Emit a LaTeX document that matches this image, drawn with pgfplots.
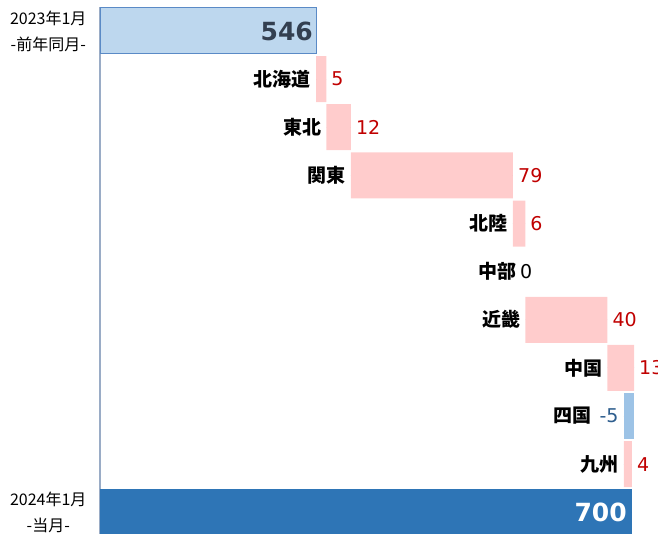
\documentclass[border=0pt]{standalone}
\usepackage{pgfplots}
\pgfplotsset{compat=1.18}
\usepackage{fontspec}
\setmainfont{Noto Sans CJK JP}
\newfontfamily\numfont{DejaVu Sans}
\definecolor{prevfill}{HTML}{BDD7EE}
\definecolor{prevdraw}{HTML}{5A8AC6}
\definecolor{posfill}{HTML}{FFCCCC}
\definecolor{postxt}{HTML}{C00000}
\definecolor{negfill}{HTML}{9DC3E6}
\definecolor{negtxt}{HTML}{2E5E8E}
\definecolor{finfill}{HTML}{2E75B6}
\definecolor{bigtxt}{HTML}{333F50}
\definecolor{axcol}{HTML}{9AACC6}
\DeclareRobustCommand\chubu{中部\,\makebox[0pt][l]{\numfont\mdseries 0}}
\DeclareRobustCommand\shikoku{四国\hspace{8pt}\textcolor{negtxt}{\numfont\mdseries -5}}
\pgfplotsset{common/.style={
  at={(100pt,0pt)}, anchor=north west,
  scale only axis, width=558pt, height=534pt,
  xmin=440.7, xmax=712.7, ymin=-0.643, ymax=10.45,
  y dir=reverse}}
\pgfplotsset{lab/.style={only marks, mark=*, mark size=0pt, mark options={draw=none, fill=none},
  nodes near coords={\pgfplotspointmeta}, point meta=explicit symbolic}}
\begin{document}
\begin{tikzpicture}
\begin{axis}[common,
  xbar stacked, bar width=46pt,
  axis x line=none, axis y line=left,
  y axis line style={-, draw=axcol, line width=1.8pt, shorten <=7pt},
  xtick=\empty,
  ytick={0,10},
  yticklabels={{2023年1月\\-前年同月-},{2024年1月\\-当月-}},
  yticklabel style={align=center, font=\fontsize{16}{26}\selectfont, xshift=-10pt},
  major tick length=0pt,
]
% previous-year total
\addplot[draw=prevdraw, line width=1pt, fill=prevfill]
  coordinates {(546,0) (0,1) (0,2) (0,3) (0,4) (0,5) (0,6) (0,7) (0,8) (0,9) (0,10)};
% invisible base
\addplot[draw=none, fill=none]
  coordinates {(0,0) (546,1) (551,2) (563,3) (642,4) (648,5) (648,6) (688,7) (696,8) (696,9) (0,10)};
% increases
\addplot[draw=none, fill=posfill]
  coordinates {(0,0) (5,1) (12,2) (79,3) (6,4) (0,5) (40,6) (13,7) (0,8) (4,9) (0,10)};
% decreases
\addplot[draw=none, fill=negfill]
  coordinates {(0,0) (0,1) (0,2) (0,3) (0,4) (0,5) (0,6) (0,7) (5,8) (0,9) (0,10)};
% current total
\addplot[draw=none, fill=finfill]
  coordinates {(0,0) (0,1) (0,2) (0,3) (0,4) (0,5) (0,6) (0,7) (0,8) (0,9) (700,10)};
\end{axis}
\begin{axis}[common, hide axis, clip=false]
% totals
\addplot[lab, every node near coord/.style={anchor=east, inner sep=3pt, text=bigtxt, font=\numfont\bfseries\fontsize{25}{28}\selectfont}]
  coordinates {(546,0)[546]};
\addplot[lab, every node near coord/.style={anchor=east, inner sep=5pt, text=white, font=\numfont\bfseries\fontsize{25}{28}\selectfont}]
  coordinates {(700,10)[700]};
% category labels at bar starts
\addplot[lab, every node near coord/.style={anchor=east, inner sep=5pt, text=black, font=\bfseries\fontsize{19}{22}\selectfont}]
  coordinates {(546,1)[北海道] (551,2)[東北] (563,3)[関東] (642,4)[北陸]
  (648,5)[\chubu] (648,6)[近畿] (688,7)[中国] (696,8)[\shikoku] (696,9)[九州]};
% value labels at bar ends
\addplot[lab, every node near coord/.style={anchor=west, inner sep=5pt, text=postxt, font=\numfont\fontsize{19}{22}\selectfont}]
  coordinates {(551,1)[5] (563,2)[12] (642,3)[79] (648,4)[6] (688,6)[40] (701,7)[13] (700,9)[4]};
\end{axis}
\pgfresetboundingbox
\path (0pt,0pt) rectangle (658pt,-534pt);
\end{tikzpicture}
\end{document}
